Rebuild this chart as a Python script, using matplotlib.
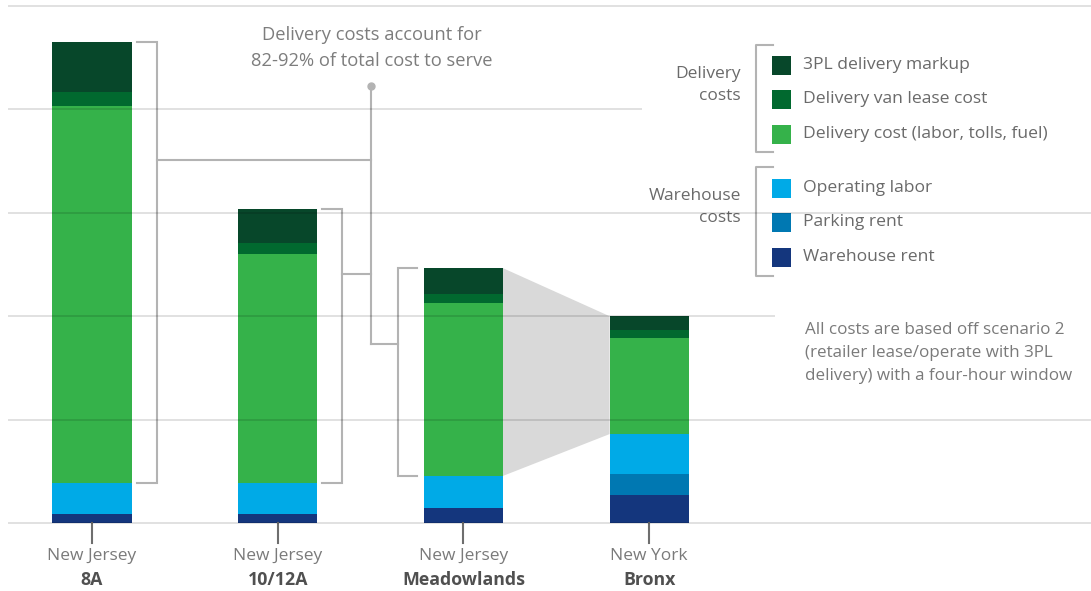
import matplotlib
matplotlib.use("Agg")
import matplotlib.pyplot as plt
from matplotlib.patches import Polygon, Rectangle
import numpy as np

# ---- data (cost per order, stacked from bottom) ----
regions = ["New Jersey", "New Jersey", "New Jersey", "New York"]
sites = ["8A", "10/12A", "Meadowlands", "Bronx"]

warehouse_rent = [0.17, 0.18, 0.29, 0.54]
parking_rent = [0.00, 0.00, 0.00, 0.41]
operating_labor = [0.60, 0.60, 0.62, 0.77]
delivery_cost = [7.29, 4.43, 3.35, 1.86]
van_lease = [0.27, 0.21, 0.17, 0.15]
markup_3pl = [0.97, 0.66, 0.50, 0.27]

series_names = ["Warehouse rent", "Parking rent", "Operating labor",
                "Delivery cost (labor, tolls, fuel)", "Delivery van lease cost",
                "3PL delivery markup"]
series_colors = ["#14367d", "#0078b2", "#00aae7", "#35b24a", "#01692f", "#07472a"]
grid_levels = [0, 2, 4, 6, 8, 10]

annotation_text = "Delivery costs account for\n82-92% of total cost to serve"
note_text = ("All costs are based off scenario 2\n(retailer lease/operate with 3PL\n"
             "delivery) with a four-hour window")

plt.rcParams["font.family"] = ["Open Sans", "DejaVu Sans"]

W, H = 1091, 591
fig = plt.figure(figsize=(W / 100, H / 100), dpi=100)
ax = fig.add_axes([0, 0, 1, 1])

# pixel <-> data helpers for placing decorations
X0, XS = 92.0, 185.7      # pixel of first bar centre, pixels per category
Y0, YS = 523.0, 51.7      # pixel of baseline, pixels per cost unit
ax.set_xlim(-X0 / XS, (W - X0) / XS)
ax.set_ylim(-(H - Y0) / YS, Y0 / YS)
ax.axis("off")


def px(xp):
    return (xp - X0) / XS


def py(yp):
    return (Y0 - yp) / YS


dx = 1.0 / XS  # one pixel in x data units
grey = "#b3b3b3"
text_grey = "#7d7d7d"

# ---- gridlines (semi-transparent, drawn over the bars) ----
grid_right = {0: W, 2: W, 4: 775, 6: W, 8: 642, 10: W}
for g in grid_levels:
    ax.plot([px(8), px(grid_right[g])], [g, g], color="black", alpha=0.13, lw=1.3,
            zorder=6, solid_capstyle="butt")

# ---- stacked bars ----
stack = [warehouse_rent, parking_rent, operating_labor, delivery_cost, van_lease, markup_3pl]
xpos = np.arange(len(sites))
bar_w = 79 * dx
bottom = np.zeros(len(sites))
for vals, col, name in zip(stack, series_colors, series_names):
    v = np.array(vals)
    ax.bar(xpos, v, width=bar_w, bottom=bottom, color=col, label=name,
           zorder=3, linewidth=0)
    bottom += v
totals = bottom
delivery_base = np.array(warehouse_rent) + np.array(parking_rent) + np.array(operating_labor)

# ---- grey zoom wedge between Meadowlands and Bronx ----
half = bar_w / 2
wedge = Polygon([[xpos[2] + half, totals[2]], [xpos[3] - half, totals[3]],
                 [xpos[3] - half, delivery_base[3]], [xpos[2] + half, delivery_base[2]]],
                closed=True, facecolor="#d9d9d9", edgecolor="none", zorder=2)
ax.add_patch(wedge)

# ---- brackets around delivery portion ----
lw_b = 1.5
hub_x = px(371)
for i, (side, link_y) in enumerate([("right", 160), ("right", 274), ("left", 344)]):
    if side == "right":
        x_in = xpos[i] + half + 5 * dx
        x_out = x_in + 20 * dx
    else:
        x_in = xpos[i] - half - 7 * dx
        x_out = x_in - 19 * dx
    ax.plot([x_in, x_out, x_out, x_in],
            [totals[i], totals[i], delivery_base[i], delivery_base[i]],
            color=grey, lw=lw_b, zorder=1, solid_joinstyle="miter")
    ax.plot([x_out, hub_x], [py(link_y), py(link_y)], color=grey, lw=lw_b, zorder=1)

ax.plot([hub_x, hub_x], [py(86), py(344)], color=grey, lw=lw_b, zorder=1)
ax.plot([hub_x], [py(86)], marker="o", ms=5, color=grey, zorder=4)
ax.text(px(372), py(48), annotation_text, ha="center", va="center",
        fontsize=13.2, color=text_grey, linespacing=1.55)

# ---- category ticks and labels ----
for i in range(len(sites)):
    ax.plot([xpos[i], xpos[i]], [0, py(543)], color="#6e6e6e", lw=1.5, zorder=4)
    ax.text(xpos[i], py(556), regions[i], ha="center", va="center",
            fontsize=12.5, color="#7a7a7a")
    ax.text(xpos[i], py(580), sites[i], ha="center", va="center",
            fontsize=12.8, color="#505050", fontweight="bold")

# ---- legend (custom, grouped) ----
legend_rows = [(65, 5), (99, 4), (134, 3), (188, 2), (222, 1), (257, 0)]
sq = 19
for yc, k in legend_rows:
    ax.add_patch(Rectangle((px(772), py(yc + sq / 2)), sq * dx, sq / YS,
                           facecolor=series_colors[k], edgecolor="none", zorder=5))
    ax.text(px(803), py(yc), series_names[k], ha="left", va="center",
            fontsize=12.6, color="#6a6a6a")

for (top, bot) in [(45, 152), (167, 276)]:
    ax.plot([px(773), px(756), px(756), px(773)], [py(top), py(top), py(bot), py(bot)],
            color=grey, lw=1.5, zorder=1)

ax.text(px(741), py(85), "Delivery\ncosts", ha="right", va="center",
        fontsize=12.5, color="#6a6a6a", linespacing=1.45)
ax.text(px(741), py(207), "Warehouse\ncosts", ha="right", va="center",
        fontsize=12.5, color="#6a6a6a", linespacing=1.45)

ax.text(px(805), py(353), note_text, ha="left", va="center",
        fontsize=12.25, color="#7a7a7a", linespacing=1.55)

fig.savefig("out.png", dpi=100, facecolor="white")
